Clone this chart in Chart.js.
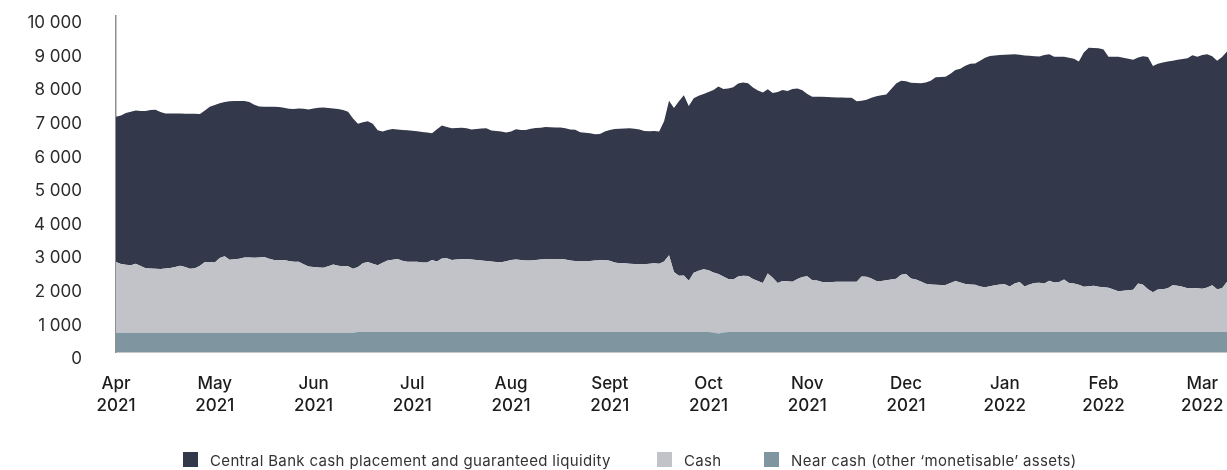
<!DOCTYPE html>
<html>
<head>
<meta charset="utf-8">
<script src="https://cdn.jsdelivr.net/npm/chart.js@4.4.1/dist/chart.umd.min.js"></script>
<style>
  html, body { margin: 0; padding: 0; background: #fff; }
  #wrap { position: relative; width: 1227px; height: 470px; overflow: hidden; }
  #chart { position: absolute; left: 0; top: 0; }
  .legend-item { position: absolute; top: 451px; height: 16px; display: flex; align-items: center;
    font: 15px Inter, sans-serif; letter-spacing: 0.35px; color: #333; white-space: nowrap; }
  .swatch { width: 15px; height: 15px; margin-right: 12px; flex: none; }
  .legend-item span:last-child { position: relative; top: 1px; }
</style>
</head>
<body>
<div id="wrap">
  <canvas id="chart" width="1227" height="470"></canvas>
  <div id="legend"></div>
</div>
<script>
// Axis labels
const monthLabels = ['Apr', 'May', 'Jun', 'Jul', 'Aug', 'Sept', 'Oct', 'Nov', 'Dec', 'Jan', 'Feb', 'Mar'];
const yearLabels = ['2021', '2021', '2021', '2021', '2021', '2021', '2021', '2021', '2021', '2022', '2022', '2022'];

// One observation every 1/20 of a month, starting 1 April 2021
const monthsPerObservation = 1 / 20;

// Central Bank cash placement and guaranteed liquidity
const centralBank = [
  4320, 4420, 4510, 4565, 4560, 4610, 4675, 4715, 4735, 4670,
  4615, 4600, 4570, 4530, 4560, 4615, 4600, 4510, 4510, 4625,
  4690, 4600, 4590, 4715, 4710, 4695, 4660, 4630, 4555, 4495,
  4475, 4525, 4560, 4550, 4530, 4530, 4550, 4560, 4630, 4670,
  4720, 4755, 4775, 4715, 4645, 4665, 4650, 4600, 4470, 4260,
  4195, 4190, 4160, 4020, 3905, 3890, 3895, 3855, 3895, 3915,
  3900, 3885, 3885, 3865, 3775, 3940, 3955, 3910, 3920, 3915,
  3915, 3890, 3875, 3905, 3930, 3955, 3895, 3895, 3895, 3830,
  3820, 3875, 3870, 3890, 3925, 3930, 3925, 3935, 3925, 3915,
  3915, 3910, 3900, 3905, 3830, 3815, 3800, 3760, 3760, 3820,
  3895, 3970, 4000, 4010, 4030, 4025, 4010, 3970, 3940, 3935,
  3940, 4180, 4600, 4880, 5190, 5360, 5200, 5190, 5210, 5215,
  5310, 5435, 5575, 5580, 5670, 5720, 5740, 5750, 5740, 5700,
  5670, 5670, 5480, 5500, 5690, 5690, 5665, 5740, 5670, 5555,
  5425, 5465, 5470, 5520, 5515, 5495, 5485, 5485, 5480, 5475,
  5370, 5230, 5270, 5380, 5500, 5530, 5525, 5675, 5810, 5770,
  5740, 5830, 5850, 5900, 5990, 6060, 6175, 6190, 6195, 6230,
  6280, 6360, 6495, 6570, 6585, 6720, 6830, 6850, 6835, 6830,
  6835, 6905, 6820, 6765, 6875, 6805, 6755, 6735, 6800, 6740,
  6720, 6710, 6625, 6710, 6695, 6645, 6970, 7095, 7070, 7100,
  7075, 6880, 6930, 6980, 6935, 6890, 6850, 6725, 6800, 6910,
  6730, 6720, 6745, 6745, 6685, 6725, 6775, 6845, 6925, 6885,
  6960, 6940, 6815, 6800, 6880, 6850
];

// Cash
const cash = [
  2105, 2045, 2025, 2010, 2055, 1985, 1920, 1910, 1900, 1895,
  1910, 1925, 1955, 1995, 1955, 1900, 1915, 1995, 2105, 2100,
  2085, 2225, 2275, 2170, 2185, 2200, 2235, 2235, 2230, 2240,
  2250, 2200, 2165, 2165, 2165, 2135, 2110, 2110, 2035, 1970,
  1955, 1940, 1930, 1975, 2030, 1995, 1975, 1975, 1905, 1935,
  2050, 2085, 2035, 1985, 2060, 2125, 2150, 2175, 2120, 2090,
  2090, 2090, 2070, 2070, 2140, 2095, 2190, 2195, 2145, 2155,
  2165, 2175, 2155, 2140, 2125, 2110, 2100, 2085, 2075, 2105,
  2145, 2160, 2145, 2125, 2125, 2140, 2155, 2165, 2170, 2170,
  2175, 2155, 2130, 2115, 2115, 2115, 2115, 2125, 2135, 2145,
  2120, 2070, 2050, 2045, 2035, 2025, 2015, 2015, 2035, 2050,
  2030, 2095, 2285, 1785, 1675, 1685, 1525, 1765, 1825, 1865,
  1835, 1785, 1775, 1670, 1575, 1565, 1655, 1675, 1665, 1575,
  1515, 1455, 1745, 1615, 1455, 1515, 1510, 1495, 1575, 1640,
  1660, 1540, 1535, 1485, 1480, 1490, 1495, 1495, 1495, 1495,
  1495, 1655, 1645, 1595, 1515, 1515, 1540, 1560, 1585, 1705,
  1725, 1590, 1560, 1505, 1435, 1415, 1410, 1400, 1400, 1455,
  1515, 1475, 1430, 1415, 1405, 1355, 1335, 1365, 1395, 1415,
  1420, 1355, 1445, 1485, 1355, 1415, 1455, 1465, 1445, 1525,
  1475, 1485, 1565, 1455, 1440, 1405, 1345, 1365, 1380, 1345,
  1330, 1315, 1265, 1215, 1230, 1245, 1255, 1445, 1405, 1275,
  1185, 1265, 1275, 1305, 1390, 1375, 1350, 1305, 1310, 1305,
  1285, 1325, 1390, 1275, 1305, 1495
];

// Near cash (other 'monetisable' assets)
const nearCash = [
  575, 575, 575, 575, 575, 575, 575, 575, 575, 575,
  575, 575, 575, 575, 575, 575, 575, 575, 575, 575,
  575, 575, 575, 575, 575, 575, 575, 575, 575, 575,
  575, 575, 575, 575, 575, 575, 575, 575, 575, 575,
  575, 575, 575, 575, 575, 575, 575, 575, 575, 595,
  595, 595, 595, 595, 595, 595, 595, 595, 595, 595,
  595, 595, 595, 595, 595, 595, 595, 595, 595, 595,
  595, 595, 595, 595, 595, 595, 595, 595, 595, 595,
  595, 595, 595, 595, 595, 595, 595, 595, 595, 595,
  595, 595, 595, 595, 595, 595, 595, 595, 595, 595,
  595, 595, 595, 595, 595, 595, 595, 595, 595, 595,
  595, 595, 595, 595, 595, 595, 595, 595, 595, 595,
  595, 580, 550, 580, 595, 595, 595, 595, 595, 595,
  595, 595, 595, 595, 595, 595, 595, 595, 595, 595,
  595, 595, 595, 595, 595, 595, 595, 595, 595, 595,
  595, 595, 595, 595, 595, 595, 595, 595, 595, 595,
  595, 595, 595, 595, 595, 595, 595, 595, 595, 595,
  595, 595, 595, 595, 595, 595, 595, 595, 595, 595,
  595, 595, 595, 595, 595, 595, 595, 595, 595, 595,
  595, 595, 595, 595, 595, 595, 595, 595, 595, 595,
  595, 595, 595, 595, 595, 595, 595, 595, 595, 595,
  595, 595, 595, 595, 595, 595, 595, 595, 595, 595,
  595, 595, 595, 595, 595, 595
];

const seriesNames = [
  'Central Bank cash placement and guaranteed liquidity',
  'Cash',
  'Near cash (other \u2018monetisable\u2019 assets)'
];
const seriesColors = ['#33384a', '#c2c3c8', '#7f95a0'];

const toPoints = values => values.map((v, i) => ({ x: i * monthsPerObservation, y: v }));
const withSpaces = v => String(v).replace(/\B(?=(\d{3})+(?!\d))/g, ' ');

const axisBorder = { display: true, color: '#8f8f8f', width: 1.5 };

// Tick padding should only move the labels, not shrink the plot area
const noEdgePadding = axis => {
  axis.paddingTop = 0; axis.paddingBottom = 0;
  axis.paddingLeft = 0; axis.paddingRight = 0;
};

new Chart(document.getElementById('chart'), {
  type: 'line',
  data: {
    datasets: [
      { label: seriesNames[2], data: toPoints(nearCash), backgroundColor: seriesColors[2], fill: 'origin' },
      { label: seriesNames[1], data: toPoints(cash), backgroundColor: seriesColors[1], fill: '-1' },
      { label: seriesNames[0], data: toPoints(centralBank), backgroundColor: seriesColors[0], fill: '-1' }
    ]
  },
  options: {
    responsive: false,
    animation: false,
    layout: { padding: { top: 16, left: 0, right: 0, bottom: 0 } },
    elements: {
      point: { radius: 0, hoverRadius: 0 },
      line: { borderWidth: 0, borderColor: 'transparent', tension: 0 }
    },
    plugins: { legend: { display: false }, tooltip: { enabled: false } },
    scales: {
      x: {
        type: 'linear', min: 0, max: 11.25, z: 1,
        grid: { display: false, drawTicks: false },
        border: axisBorder,
        afterBuildTicks: axis => { axis.ticks = monthLabels.map((_, i) => ({ value: i })); },
        afterFit: axis => { axis.height = 118; noEdgePadding(axis); },
        ticks: {
          autoSkip: false, maxRotation: 0, padding: 21, color: '#1c1c1c',
          font: { family: 'Inter', size: 17, weight: '500', lineHeight: 1.3 },
          callback: v => [monthLabels[v], yearLabels[v]]
        }
      },
      y: {
        stacked: true, min: 0, max: 10000, z: 1,
        grid: { display: false, drawTicks: false },
        border: axisBorder,
        afterFit: axis => { axis.width = 116; noEdgePadding(axis); },
        ticks: {
          stepSize: 1000, padding: 34, labelOffset: 7, color: '#2c2c2c',
          font: { family: 'Inter', size: 17, weight: '400' },
          callback: v => withSpaces(v)
        }
      }
    }
  }
});

// Legend below the plot
const legendLeft = [183, 657, 764];
const legend = document.getElementById('legend');
seriesNames.forEach((name, i) => {
  const item = document.createElement('div');
  item.className = 'legend-item';
  item.style.left = legendLeft[i] + 'px';
  const sw = document.createElement('span');
  sw.className = 'swatch';
  sw.style.background = seriesColors[i];
  const txt = document.createElement('span');
  txt.textContent = name;
  item.appendChild(sw);
  item.appendChild(txt);
  legend.appendChild(item);
});
</script>
</body>
</html>
